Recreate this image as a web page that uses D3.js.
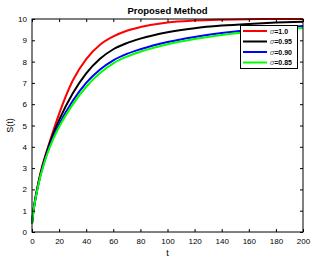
<!DOCTYPE html>
<html><head><meta charset="utf-8">
<script src="https://cdn.jsdelivr.net/npm/d3@7"></script>
<style>body{margin:0;background:#fff}svg{display:block;font-family:"Liberation Sans",Arial,sans-serif}</style>
</head><body><svg id="c" width="314" height="261"></svg>
<script>
const tValues = [0,1,2,4,6,8,10,12,15,20,30,40,50,60,70,80,100,120,140,160,180,200];
const sigma100 = [0.38,0.98,1.4,2.1,2.7,3.2,3.62,4.02,4.62,5.55,7.1,8.12,8.78,9.18,9.45,9.62,9.84,9.93,9.97,9.99,10.0,10.0];
const sigma095 = [0.38,0.97,1.38,2.06,2.64,3.13,3.57,3.96,4.5,5.25,6.5,7.45,8.12,8.58,8.87,9.08,9.38,9.57,9.69,9.77,9.83,9.87];
const sigma090 = [0.38,0.96,1.36,2.03,2.6,3.07,3.49,3.86,4.36,5.05,6.15,7.0,7.62,8.06,8.36,8.58,8.92,9.16,9.34,9.48,9.58,9.67];
const sigma085 = [0.38,0.95,1.34,2.0,2.56,3.02,3.43,3.79,4.27,4.93,5.98,6.82,7.45,7.92,8.23,8.46,8.81,9.06,9.25,9.39,9.5,9.58];
const seriesLabels = ["1.0","0.95","0.90","0.85"];
const seriesColors = ["#ff0000","#000000","#0000ff","#00ff00"];
const xTicks = [0,20,40,60,80,100,120,140,160,180,200];
const yTicks = [0,1,2,3,4,5,6,7,8,9,10];

const series = [sigma100, sigma095, sigma090, sigma085];
const svg = d3.select("#c");
const L=32, R=303, T=19, B=232;
const x = d3.scaleLinear().domain([0,200]).range([L,R]);
const y = d3.scaleLinear().domain([0,10]).range([B,T]);

const line = d3.line().x((d,i)=>x(tValues[i])).y(d=>y(d)).curve(d3.curveMonotoneX);
series.forEach((s,k)=>{
  svg.append("path").datum(s).attr("d",line).attr("fill","none")
    .attr("stroke",seriesColors[k]).attr("stroke-width",2);
});
const tickLen=3;
const gx = svg.append("g").attr("transform",`translate(0,${B})`)
  .call(d3.axisBottom(x).tickValues(xTicks).tickSizeInner(-tickLen).tickSizeOuter(0).tickPadding(6));
const gxt = svg.append("g").attr("transform",`translate(0,${T})`)
  .call(d3.axisTop(x).tickValues(xTicks).tickSizeInner(-tickLen).tickSizeOuter(0).tickFormat(""));
const gy = svg.append("g").attr("transform",`translate(${L},0)`)
  .call(d3.axisLeft(y).tickValues(yTicks).tickSizeInner(-tickLen).tickSizeOuter(0).tickPadding(5));
const gyr = svg.append("g").attr("transform",`translate(${R},0)`)
  .call(d3.axisRight(y).tickValues(yTicks).tickSizeInner(-tickLen).tickSizeOuter(0).tickFormat(""));
[gx,gxt,gy,gyr].forEach(g=>{
  g.selectAll("text").attr("font-size",8).attr("fill","#000").attr("font-family","Liberation Sans, Arial, sans-serif");
  g.selectAll("line").attr("stroke","#000");
  g.select(".domain").remove();
});
svg.append("rect").attr("x",L).attr("y",T).attr("width",R-L).attr("height",B-T)
  .attr("fill","none").attr("stroke","#000").attr("stroke-width",1);

svg.append("text").attr("x",(L+R)/2).attr("y",14).attr("text-anchor","middle")
  .attr("font-size",9.5).attr("font-weight","bold").text("Proposed Method");
svg.append("text").attr("x",(L+R)/2).attr("y",256).attr("text-anchor","middle")
  .attr("font-size",9).text("t");
svg.append("text").attr("transform",`translate(13,${(T+B)/2}) rotate(-90)`).attr("text-anchor","middle")
  .attr("font-size",9).text("S(t)");

const lg = svg.append("g");
lg.append("rect").attr("x",240.5).attr("y",25.5).attr("width",57).attr("height",43)
  .attr("fill","#fff").attr("stroke","#000").attr("stroke-width",1);
seriesLabels.forEach((lab,k)=>{
  const yy = 31 + k*10.5;
  lg.append("line").attr("x1",243).attr("x2",267).attr("y1",yy).attr("y2",yy)
    .attr("stroke",seriesColors[k]).attr("stroke-width",2);
  const t = lg.append("text").attr("x",270).attr("y",yy+2.5).attr("font-size",7).attr("font-weight","bold");
  t.append("tspan").attr("font-style","italic").attr("font-weight","normal").attr("fill","#555").text("σ");
  t.append("tspan").text("="+lab);
});
</script></body></html>
